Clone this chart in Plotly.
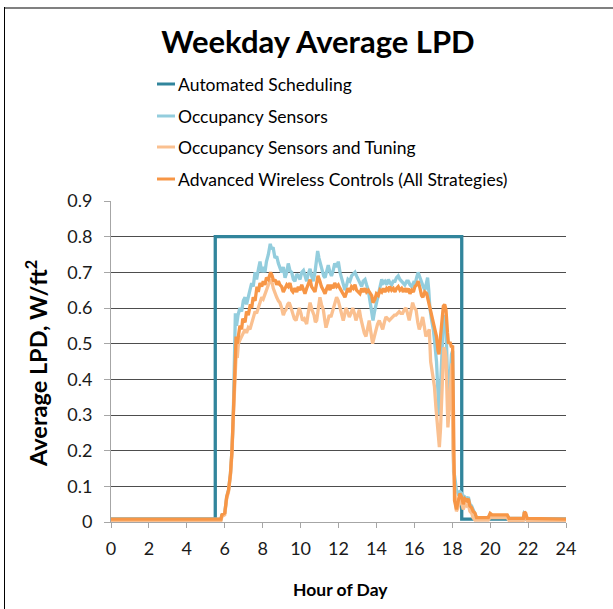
import plotly.graph_objects as go

# ---------------- data ----------------
sched_h = [0, 5.5, 18.5, 24]
sched_v = [0.008, 0.8, 0.008, 0.008]

occ_h = [0, 5.8, 5.85, 6.0, 6.1, 6.2, 6.3, 6.38, 6.45, 6.52, 6.56, 6.62, 6.7, 6.8, 6.89, 6.98, 7.07, 7.15, 7.24, 7.33,
         7.42, 7.5, 7.6, 7.68, 7.78, 7.86, 7.95, 8.03, 8.12, 8.2, 8.3, 8.4, 8.47, 8.55, 8.65, 8.74, 8.83, 8.92, 9.0, 9.09,
         9.18, 9.27, 9.35, 9.44, 9.53, 9.62, 9.7, 9.8, 9.88, 9.97, 10.06, 10.15, 10.23, 10.32, 10.4, 10.5, 10.58, 10.67,
         10.76, 10.85, 10.9, 10.97, 11.06, 11.15, 11.22, 11.29, 11.38, 11.46, 11.55, 11.63, 11.72, 11.8, 11.9, 11.99,
         12.08, 12.17, 12.25, 12.34, 12.43, 12.5, 12.6, 12.69, 12.78, 12.87, 12.95, 13.04, 13.13, 13.22, 13.3, 13.4,
         13.48, 13.57, 13.66, 13.75, 13.82, 13.9, 14.0, 14.1, 14.19, 14.28, 14.36, 14.45, 14.54, 14.63, 14.72, 14.8,
         14.89, 14.98, 15.06, 15.15, 15.24, 15.33, 15.42, 15.5, 15.6, 15.68, 15.77, 15.86, 15.95, 16.03, 16.12, 16.2,
         16.3, 16.38, 16.47, 16.56, 16.64, 16.7, 16.76, 16.82, 16.9, 17.0, 17.08, 17.17, 17.25, 17.3, 17.38, 17.45,
         17.53, 17.6, 17.67, 17.75, 17.8, 17.88, 17.96, 18.02, 18.07, 18.12, 18.22, 18.3, 18.4, 18.5, 18.58, 18.67,
         18.76, 18.85, 18.93, 19.02, 19.1, 19.2, 19.28, 19.9, 20.0, 20.1, 20.9, 21.0, 21.75, 21.8, 21.87, 21.95, 24]
occ_v = [0.008, 0.008, 0.02, 0.025, 0.07, 0.09, 0.135, 0.2, 0.3, 0.5, 0.585, 0.55, 0.58, 0.60, 0.59, 0.62, 0.63, 0.61,
         0.635, 0.65, 0.67, 0.66, 0.70, 0.68, 0.71, 0.73, 0.70, 0.715, 0.70, 0.73, 0.75, 0.78, 0.765, 0.77, 0.74, 0.745,
         0.725, 0.71, 0.70, 0.715, 0.685, 0.70, 0.725, 0.705, 0.70, 0.68, 0.675, 0.695, 0.69, 0.68, 0.70, 0.705, 0.69,
         0.675, 0.695, 0.71, 0.69, 0.675, 0.70, 0.745, 0.76, 0.74, 0.72, 0.705, 0.69, 0.685, 0.705, 0.72, 0.70, 0.69,
         0.705, 0.725, 0.715, 0.73, 0.70, 0.68, 0.665, 0.65, 0.665, 0.68, 0.675, 0.69, 0.695, 0.70, 0.69, 0.68, 0.665,
         0.66, 0.675, 0.68, 0.665, 0.65, 0.62, 0.58, 0.565, 0.59, 0.615, 0.63, 0.66, 0.68, 0.67, 0.675, 0.665, 0.68,
         0.67, 0.665, 0.675, 0.675, 0.685, 0.69, 0.68, 0.675, 0.67, 0.665, 0.675, 0.675, 0.665, 0.66, 0.67, 0.665,
         0.685, 0.70, 0.685, 0.67, 0.66, 0.65, 0.67, 0.685, 0.65, 0.60, 0.57, 0.54, 0.50, 0.45, 0.36, 0.30, 0.38, 0.48,
         0.56, 0.58, 0.55, 0.40, 0.33, 0.40, 0.47, 0.48, 0.14, 0.13, 0.09, 0.08, 0.085, 0.08, 0.06, 0.07, 0.065, 0.07,
         0.05, 0.045, 0.035, 0.025, 0.012, 0.012, 0.022, 0.018, 0.018, 0.01, 0.01, 0.025, 0.022, 0.01, 0.008]

tun_h = [0, 5.8, 5.85, 6.0, 6.1, 6.2, 6.3, 6.38, 6.45, 6.54, 6.6, 6.66, 6.72, 6.8, 6.89, 6.98, 7.07, 7.15, 7.24, 7.33,
         7.42, 7.5, 7.6, 7.68, 7.77, 7.86, 7.95, 8.03, 8.12, 8.2, 8.3, 8.42, 8.5, 8.56, 8.65, 8.74, 8.83, 8.91, 9.0,
         9.09, 9.16, 9.23, 9.32, 9.4, 9.5, 9.58, 9.67, 9.76, 9.85, 9.93, 10.02, 10.1, 10.2, 10.32, 10.4, 10.5, 10.6,
         10.71, 10.78, 10.85, 10.94, 11.02, 11.1, 11.2, 11.28, 11.34, 11.42, 11.51, 11.6, 11.72, 11.8, 11.9, 11.99,
         12.08, 12.17, 12.25, 12.32, 12.39, 12.48, 12.57, 12.66, 12.75, 12.84, 12.92, 13.01, 13.1, 13.18, 13.27, 13.36,
         13.45, 13.53, 13.62, 13.7, 13.8, 13.89, 13.98, 14.06, 14.15, 14.24, 14.33, 14.42, 14.5, 14.59, 14.68, 14.77,
         14.86, 14.95, 15.03, 15.12, 15.2, 15.29, 15.38, 15.47, 15.56, 15.64, 15.73, 15.82, 15.91, 16.0, 16.09, 16.18,
         16.26, 16.35, 16.44, 16.52, 16.61, 16.7, 16.79, 16.86, 16.96, 17.06, 17.14, 17.24, 17.32, 17.38, 17.44, 17.5,
         17.56, 17.62, 17.67, 17.72, 17.77, 17.83, 17.88, 17.93, 17.98, 18.04, 18.08, 18.14, 18.22, 18.3, 18.4, 18.5,
         18.58, 18.67, 18.76, 18.85, 18.93, 19.02, 19.1, 19.2, 19.9, 20.0, 20.1, 20.9, 21.0, 21.75, 21.8, 21.87, 21.95, 24]
tun_v = [0.004, 0.004, 0.015, 0.02, 0.065, 0.085, 0.13, 0.19, 0.29, 0.44, 0.47, 0.46, 0.50, 0.51, 0.52, 0.535, 0.54,
         0.53, 0.545, 0.54, 0.555, 0.57, 0.59, 0.585, 0.60, 0.615, 0.63, 0.625, 0.64, 0.65, 0.665, 0.68, 0.67, 0.655,
         0.64, 0.63, 0.62, 0.615, 0.60, 0.58, 0.59, 0.595, 0.61, 0.615, 0.60, 0.585, 0.57, 0.565, 0.585, 0.60, 0.585,
         0.565, 0.57, 0.555, 0.585, 0.615, 0.595, 0.58, 0.56, 0.565, 0.60, 0.63, 0.61, 0.595, 0.565, 0.545, 0.56, 0.58,
         0.575, 0.60, 0.615, 0.63, 0.62, 0.60, 0.58, 0.565, 0.58, 0.60, 0.59, 0.575, 0.585, 0.60, 0.585, 0.565, 0.58,
         0.595, 0.57, 0.545, 0.53, 0.52, 0.545, 0.565, 0.535, 0.50, 0.52, 0.545, 0.555, 0.565, 0.55, 0.54, 0.56, 0.575,
         0.57, 0.565, 0.57, 0.575, 0.58, 0.58, 0.585, 0.59, 0.585, 0.585, 0.595, 0.60, 0.585, 0.565, 0.59, 0.615, 0.60,
         0.595, 0.56, 0.54, 0.555, 0.575, 0.55, 0.52, 0.53, 0.54, 0.45, 0.42, 0.38, 0.32, 0.25, 0.21, 0.26, 0.32, 0.42,
         0.49, 0.48, 0.46, 0.36, 0.265, 0.31, 0.37, 0.42, 0.445, 0.2, 0.12, 0.08, 0.03, 0.04, 0.06, 0.055, 0.035, 0.05,
         0.045, 0.05, 0.03, 0.025, 0.012, 0.005, 0.005, 0.013, 0.012, 0.012, 0.004, 0.004, 0.015, 0.012, 0.004, 0.004]

adv_h = [0, 5.8, 5.85, 6.0, 6.1, 6.2, 6.3, 6.38, 6.45, 6.54, 6.6, 6.66, 6.72, 6.8, 6.89, 6.95, 7.07, 7.15, 7.24, 7.35,
         7.42, 7.5, 7.6, 7.7, 7.77, 7.86, 7.95, 8.03, 8.12, 8.2, 8.3, 8.42, 8.5, 8.58, 8.65, 8.74, 8.83, 8.91, 9.0, 9.09,
         9.18, 9.27, 9.35, 9.44, 9.53, 9.6, 9.7, 9.8, 9.88, 9.97, 10.06, 10.15, 10.23, 10.32, 10.4, 10.5, 10.58, 10.67,
         10.76, 10.85, 10.92, 11.02, 11.1, 11.2, 11.29, 11.38, 11.46, 11.55, 11.63, 11.72, 11.8, 11.9, 11.99, 12.08,
         12.17, 12.25, 12.34, 12.43, 12.5, 12.6, 12.69, 12.78, 12.87, 12.95, 13.04, 13.13, 13.22, 13.3, 13.4, 13.48,
         13.57, 13.66, 13.75, 13.82, 13.92, 14.0, 14.1, 14.19, 14.28, 14.36, 14.45, 14.54, 14.63, 14.7, 14.8, 14.89,
         14.98, 15.06, 15.15, 15.24, 15.33, 15.42, 15.5, 15.6, 15.68, 15.77, 15.86, 15.95, 16.03, 16.12, 16.2, 16.3,
         16.38, 16.45, 16.55, 16.65, 16.74, 16.82, 16.9, 17.0, 17.08, 17.17, 17.25, 17.3, 17.38, 17.45, 17.53, 17.6,
         17.67, 17.75, 17.8, 17.88, 17.96, 18.02, 18.07, 18.12, 18.22, 18.3, 18.4, 18.5, 18.58, 18.67, 18.76, 18.85,
         18.93, 19.02, 19.1, 19.2, 19.28, 19.9, 20.0, 20.1, 20.9, 21.0, 21.75, 21.8, 21.87, 21.95, 24]
adv_v = [0.008, 0.008, 0.02, 0.025, 0.07, 0.09, 0.135, 0.2, 0.3, 0.47, 0.52, 0.50, 0.53, 0.55, 0.54, 0.57, 0.56, 0.59,
         0.58, 0.61, 0.60, 0.63, 0.62, 0.66, 0.645, 0.67, 0.66, 0.675, 0.665, 0.685, 0.68, 0.70, 0.69, 0.675, 0.68,
         0.665, 0.675, 0.665, 0.66, 0.645, 0.655, 0.665, 0.66, 0.67, 0.65, 0.645, 0.655, 0.645, 0.66, 0.65, 0.665, 0.65,
         0.64, 0.655, 0.665, 0.68, 0.66, 0.65, 0.645, 0.67, 0.69, 0.675, 0.66, 0.65, 0.64, 0.655, 0.665, 0.65, 0.665,
         0.655, 0.67, 0.66, 0.665, 0.655, 0.645, 0.635, 0.63, 0.645, 0.655, 0.645, 0.66, 0.655, 0.665, 0.65, 0.645,
         0.64, 0.655, 0.645, 0.655, 0.645, 0.65, 0.64, 0.635, 0.615, 0.625, 0.64, 0.635, 0.65, 0.645, 0.655, 0.645,
         0.655, 0.65, 0.66, 0.65, 0.655, 0.645, 0.655, 0.66, 0.65, 0.655, 0.645, 0.655, 0.645, 0.655, 0.64, 0.65, 0.645,
         0.66, 0.665, 0.675, 0.655, 0.635, 0.63, 0.645, 0.64, 0.62, 0.605, 0.58, 0.56, 0.545, 0.52, 0.48, 0.47, 0.52,
         0.57, 0.605, 0.61, 0.595, 0.53, 0.50, 0.505, 0.49, 0.495, 0.12, 0.06, 0.035, 0.06, 0.08, 0.07, 0.05, 0.065,
         0.06, 0.065, 0.045, 0.04, 0.03, 0.025, 0.012, 0.012, 0.024, 0.02, 0.02, 0.01, 0.01, 0.028, 0.025, 0.01, 0.008]

series_names = ["Automated Scheduling", "Occupancy Sensors",
                "Occupancy Sensors and Tuning", "Advanced Wireless Controls (All Strategies)"]
series_colors = ["#31859C", "#93CDDD", "#FAC090", "#F79646"]

x_ticks = list(range(0, 25, 2))
y_ticks = [0, 0.1, 0.2, 0.3, 0.4, 0.5, 0.6, 0.7, 0.8, 0.9]
y_labels = ["0", "0.1", "0.2", "0.3", "0.4", "0.5", "0.6", "0.7", "0.8", "0.9"]

FONT = "Lato"
LW = 3.3

fig = go.Figure()
fig.add_trace(go.Scatter(x=sched_h, y=sched_v, mode="lines", line=dict(color=series_colors[0], width=LW, shape="hv"),
                         name=series_names[0], showlegend=False))
fig.add_trace(go.Scatter(x=occ_h, y=occ_v, mode="lines", line=dict(color=series_colors[1], width=LW),
                         name=series_names[1], showlegend=False))
fig.add_trace(go.Scatter(x=tun_h, y=tun_v, mode="lines", line=dict(color=series_colors[2], width=LW),
                         name=series_names[2], showlegend=False))
fig.add_trace(go.Scatter(x=adv_h, y=adv_v, mode="lines", line=dict(color=series_colors[3], width=LW),
                         name=series_names[3], showlegend=False))

L, R, T, B = 111, 47, 201, 87
W, H = 613, 609
PW, PH = W - L - R, H - T - B


def px_x(px):
    return (px - L) / PW


def px_y(py):
    return (H - B - py) / PH


shapes = []
annotations = []
# manual legend
leg_rows = [84, 116, 147, 179]
for name, col, ry in zip(series_names, series_colors, leg_rows):
    shapes.append(dict(type="line", xref="paper", yref="paper", x0=px_x(157), x1=px_x(175),
                       y0=px_y(ry), y1=px_y(ry), line=dict(color=col, width=3)))
    annotations.append(dict(xref="paper", yref="paper", x=px_x(176), y=px_y(ry), xanchor="left",
                            yanchor="middle", text=name, showarrow=False,
                            font=dict(family=FONT, size=17.5, color="#000000")))

# outer frame (top edge grey, left edge black)
shapes.append(dict(type="line", xref="paper", yref="paper", x0=px_x(4), x1=px_x(613),
                   y0=px_y(8), y1=px_y(8), line=dict(color="#808080", width=2)))
shapes.append(dict(type="line", xref="paper", yref="paper", x0=px_x(4.5), x1=px_x(4.5),
                   y0=px_y(7), y1=px_y(609), line=dict(color="#000000", width=1)))

# axis titles
annotations.append(dict(xref="paper", yref="paper", x=px_x(340), y=px_y(589), xanchor="center", yanchor="middle",
                        text="<b>Hour of Day</b>", showarrow=False,
                        font=dict(family=FONT, size=17.5, color="#000000")))
annotations.append(dict(xref="paper", yref="paper", x=px_x(36), y=px_y(364), xanchor="center", yanchor="middle",
                        text="<b>Average LPD, W/ft<sup>2</sup></b>", showarrow=False, textangle=-90,
                        font=dict(family=FONT, size=23.5, color="#000000")))

fig.update_layout(
    width=W, height=H,
    margin=dict(l=L, r=R, t=T, b=B, autoexpand=False),
    paper_bgcolor="white", plot_bgcolor="white",
    title=dict(text="<b>Weekday Average LPD</b>", x=px_x(318), xref="paper", xanchor="center",
               y=1 - 42 / H, yref="container", yanchor="middle",
               font=dict(family=FONT, size=31, color="#000000")),
    shapes=shapes, annotations=annotations,
    showlegend=False,
    xaxis=dict(range=[0, 24], tickvals=x_ticks, ticktext=[str(t) for t in x_ticks],
               showgrid=False, zeroline=False, showline=True, linecolor="#A6A6A6", linewidth=1,
               ticks="outside", ticklen=5, tickcolor="#A6A6A6", ticklabelstandoff=5,
               tickfont=dict(family=FONT, size=18, color="#1a1a1a")),
    yaxis=dict(range=[0, 0.9], tickvals=y_ticks, ticktext=y_labels,
               showgrid=True, gridcolor="#4d4d4d", gridwidth=1, zeroline=False,
               showline=True, linecolor="#A6A6A6", linewidth=1,
               ticks="outside", ticklen=6, tickcolor="#A6A6A6", ticklabelstandoff=8,
               tickfont=dict(family=FONT, size=18, color="#1a1a1a")),
)

# remove the browser's default 8px page margin so the figure sits at the window origin
fig.write_html("out.html", config={"displayModeBar": False},
               post_script="document.body.style.margin='0';")
